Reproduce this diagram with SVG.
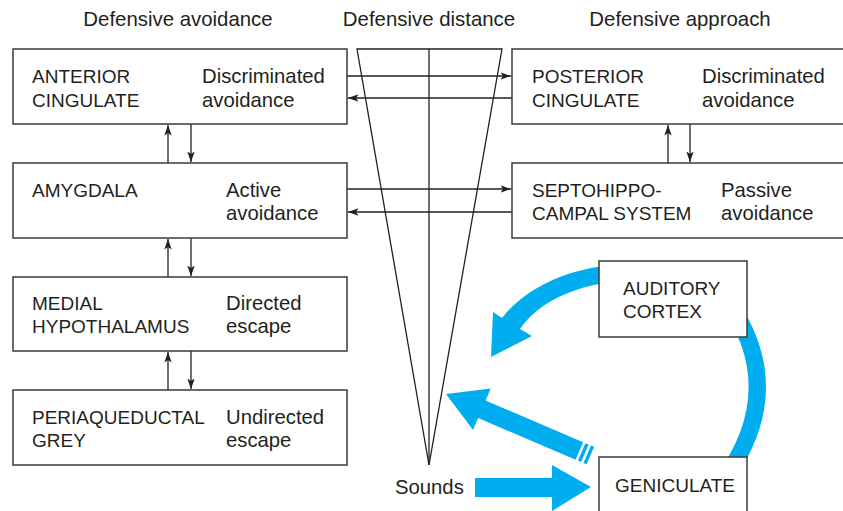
<svg xmlns="http://www.w3.org/2000/svg" width="843" height="511" viewBox="0 0 843 511">
<defs>
<style>
.box{fill:#fff;stroke:#3a3a3a;stroke-width:1.5}
.t{font-family:"Liberation Sans","Arial",sans-serif;font-size:19px;fill:#231f20}
.l{font-family:"Liberation Sans","Arial",sans-serif;font-size:20.3px;fill:#231f20}
.h{font-family:"Liberation Sans","Arial",sans-serif;font-size:20.4px;fill:#231f20;text-anchor:middle}
.ln{stroke:#231f20;stroke-width:1.3;fill:none}
.blue{fill:#00aeef}
</style>
<marker id="ah" markerUnits="userSpaceOnUse" markerWidth="11" markerHeight="8" refX="10.5" refY="4" orient="auto">
<path d="M0,0.3 L10.5,4 L0,7.7 L2.5,4 z" fill="#231f20"/>
</marker>
</defs>
<rect width="843" height="511" fill="#fff"/>

<g id="headers">
<text class="h" x="178" y="26">Defensive avoidance</text>
<text class="h" x="429" y="26">Defensive distance</text>
<text class="h" x="680" y="26">Defensive approach</text>
</g>

<g id="distance-cone">
<path class="ln" d="M357,49 L502,49 L429,465 Z"/>
<line class="ln" x1="429" y1="49" x2="429" y2="465"/>
</g>

<g id="blue-arc">
<path d="M727,300 Q790,390 722,482" fill="none" stroke="#00aeef" stroke-width="17"/>
</g>

<g id="connectors">
<line class="ln" x1="347" y1="76" x2="511" y2="76" marker-end="url(#ah)"/>
<line class="ln" x1="512" y1="98" x2="348" y2="98" marker-end="url(#ah)"/>
<line class="ln" x1="347" y1="189" x2="511" y2="189" marker-end="url(#ah)"/>
<line class="ln" x1="512" y1="212" x2="348" y2="212" marker-end="url(#ah)"/>
<line class="ln" x1="168" y1="163" x2="168" y2="125" marker-end="url(#ah)"/>
<line class="ln" x1="191" y1="124" x2="191" y2="162" marker-end="url(#ah)"/>
<line class="ln" x1="168" y1="277" x2="168" y2="239" marker-end="url(#ah)"/>
<line class="ln" x1="191" y1="238" x2="191" y2="276" marker-end="url(#ah)"/>
<line class="ln" x1="168" y1="390" x2="168" y2="352" marker-end="url(#ah)"/>
<line class="ln" x1="191" y1="351" x2="191" y2="389" marker-end="url(#ah)"/>
<line class="ln" x1="668" y1="163" x2="668" y2="125" marker-end="url(#ah)"/>
<line class="ln" x1="690" y1="124" x2="690" y2="162" marker-end="url(#ah)"/>
</g>

<g id="blue-arrows">
<path class="blue" d="M605,266 C560,271 522,292 502,318 L493,312 L491,357 L532,336 L520,329 C535,307 565,289 605,283 Z"/>
<g transform="translate(446,394) rotate(23.1)">
<path class="blue" d="M0,0 L39,-22.5 L39,-9.5 L145,-9.5 L145,9.5 L39,9.5 L39,22.5 Z"/>
<rect class="blue" x="147.5" y="-9.5" width="3.5" height="19"/>
<rect class="blue" x="153.5" y="-9.5" width="3.5" height="19"/>
</g>
<path class="blue" d="M475,478 L552,478 L552,465 L591,487 L552,511 L552,497 L475,497 Z"/>
</g>

<g id="anterior-cingulate">
<rect class="box" x="13" y="49" width="334" height="75"/>
<text class="t"><tspan x="32" y="83">ANTERIOR</tspan><tspan x="32" y="107">CINGULATE</tspan></text>
<text class="l"><tspan x="202" y="83">Discriminated</tspan><tspan x="202" y="107">avoidance</tspan></text>
</g>
<g id="amygdala">
<rect class="box" x="13" y="163" width="334" height="75"/>
<text class="t" x="32" y="197">AMYGDALA</text>
<text class="l"><tspan x="226" y="197">Active</tspan><tspan x="226" y="220">avoidance</tspan></text>
</g>
<g id="medial-hypothalamus">
<rect class="box" x="13" y="277" width="334" height="74"/>
<text class="t"><tspan x="32" y="310">MEDIAL</tspan><tspan x="32" y="333">HYPOTHALAMUS</tspan></text>
<text class="l"><tspan x="226" y="310">Directed</tspan><tspan x="226" y="333">escape</tspan></text>
</g>
<g id="periaqueductal-grey">
<rect class="box" x="13" y="390" width="334" height="75"/>
<text class="t"><tspan x="32" y="424">PERIAQUEDUCTAL</tspan><tspan x="32" y="447">GREY</tspan></text>
<text class="l"><tspan x="226" y="424">Undirected</tspan><tspan x="226" y="447">escape</tspan></text>
</g>
<g id="posterior-cingulate">
<rect class="box" x="512" y="49" width="340" height="75"/>
<text class="t"><tspan x="532" y="83">POSTERIOR</tspan><tspan x="532" y="107">CINGULATE</tspan></text>
<text class="l"><tspan x="702" y="83">Discriminated</tspan><tspan x="702" y="107">avoidance</tspan></text>
</g>
<g id="septohippocampal-system">
<rect class="box" x="512" y="163" width="340" height="75"/>
<text class="t"><tspan x="532" y="197">SEPTOHIPPO-</tspan><tspan x="532" y="220">CAMPAL SYSTEM</tspan></text>
<text class="l"><tspan x="721" y="197">Passive</tspan><tspan x="721" y="220">avoidance</tspan></text>
</g>
<g id="auditory-cortex">
<rect class="box" x="599" y="261" width="148" height="76"/>
<text class="t"><tspan x="623" y="295">AUDITORY</tspan><tspan x="623" y="318">CORTEX</tspan></text>
</g>
<g id="geniculate">
<rect class="box" x="599" y="457" width="148" height="70"/>
<text class="t" x="615" y="492">GENICULATE</text>
</g>
<g id="sounds">
<text class="l" x="395" y="494">Sounds</text>
</g>
</svg>
